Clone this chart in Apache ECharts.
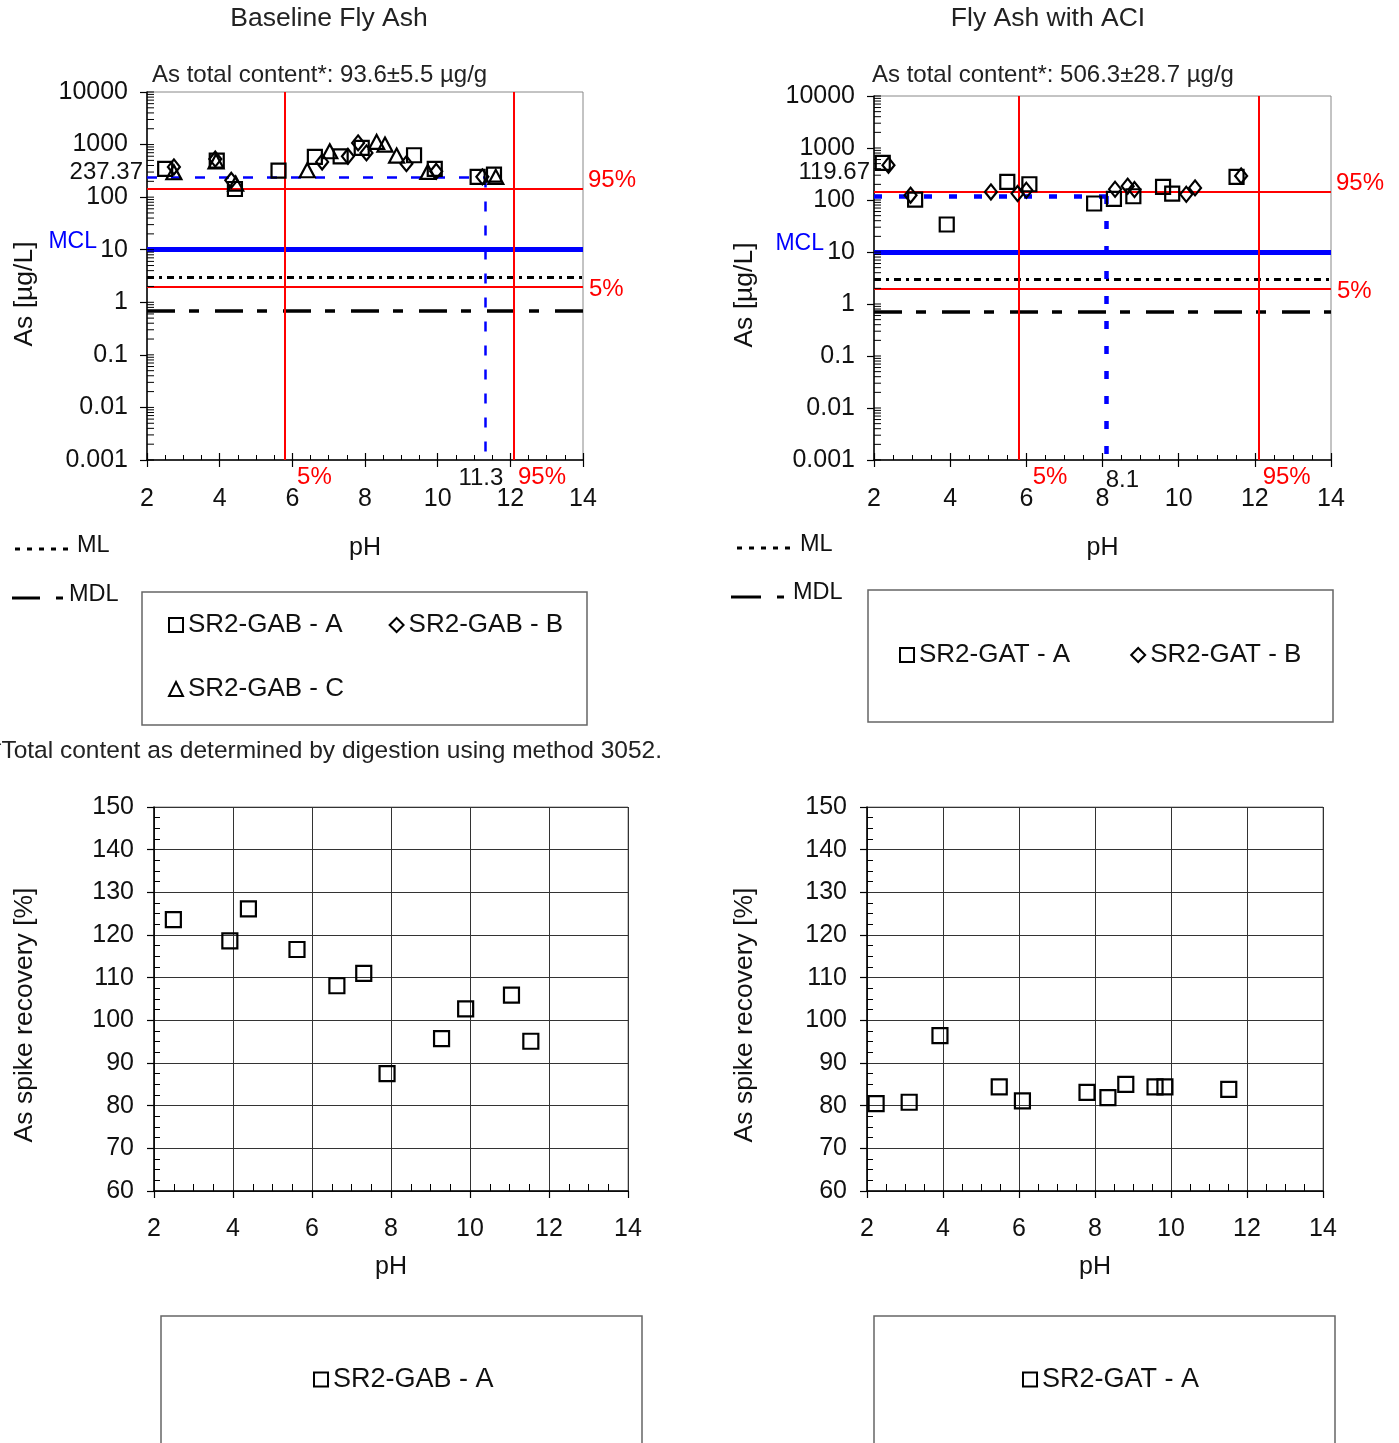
<!DOCTYPE html>
<html><head><meta charset="utf-8">
<script src="https://cdn.jsdelivr.net/npm/echarts@6/dist/echarts.min.js"></script>
<style>html,body{margin:0;padding:0;background:#fff}#c{width:1399px;height:1443px}</style>
</head><body><div id="c"></div>
<script>
// ---------- DATA ----------
// Baseline Fly Ash (SR2-GAB) leaching, As [ug/L] vs pH
const gabA_pH = [2.5, 3.92, 4.42, 5.62, 6.62, 7.33, 7.91, 9.35, 9.92, 11.1, 11.55];
const gabA_As = [344, 496, 143, 320, 583, 598, 865, 627, 344, 243, 268];
const gabB_pH = [2.74, 3.88, 4.32, 6.82, 7.53, 7.81, 8.04, 9.14, 9.96, 11.23];
const gabB_As = [376, 530, 209, 468, 598, 1077, 695, 434, 310, 243];
const gabC_pH = [2.74, 3.9, 4.44, 6.41, 7.03, 8.32, 8.55, 8.87, 9.73, 11.6];
const gabC_As = [297, 480, 181, 324, 746, 1125, 1000, 617, 302, 243];
// Fly Ash with ACI (SR2-GAT)
const gatA_pH = [2.23, 3.08, 3.91, 5.5, 6.08, 7.78, 8.3, 8.81, 9.59, 9.83, 11.52];
const gatA_As = [516, 102, 33.8, 223, 201, 85.7, 105, 118, 179, 133, 278];
const gatB_pH = [2.38, 2.96, 5.07, 5.77, 6.0, 8.33, 8.66, 8.84, 10.2, 10.43, 11.64];
const gatB_As = [467, 124, 143, 133, 154, 161, 184, 159, 129, 171, 291];
// Spike recovery [%]
const recGAB_pH = [2.49, 3.92, 4.39, 5.62, 6.63, 7.31, 7.9, 9.28, 9.89, 11.05, 11.54];
const recGAB_val = [123.6, 118.6, 126.1, 116.6, 108.1, 111.0, 87.5, 95.7, 102.7, 105.9, 95.1];
const recGAT_pH = [2.24, 3.11, 3.92, 5.48, 6.09, 7.79, 8.34, 8.81, 9.58, 9.84, 11.52];
const recGAT_val = [80.5, 80.8, 96.4, 84.4, 81.1, 83.1, 81.9, 85.0, 84.4, 84.4, 83.8];
// Reference lines
const refMCL = 10, refML = 3, refMDL = 0.7, ref95 = 145, ref5 = 2;
const pH5 = 5.8, pH95 = 12.1;
const gabTarget = [11.3, 237.37];
const gatTarget = [8.1, 119.67];
// Axis ticks
const logDecades = [0.001, 0.01, 0.1, 1, 10, 100, 1000];
const logMult = [1, 2, 3, 4, 5, 6, 7, 8, 9];
const logTop = 10000;

// ---------- CHART ----------
const FONT = '"Liberation Sans", Arial, Helvetica, sans-serif';
const TXT = '#111';
const chart = echarts.init(document.getElementById('c'), null, {renderer: 'canvas', width: 1399, height: 1443});

const grids = [
  {left: 147, top: 92, width: 436, height: 368},
  {left: 874, top: 96, width: 457, height: 364},
  {left: 154, top: 807, width: 474, height: 384},
  {left: 867, top: 807, width: 456, height: 384}
].map(g => Object.assign({show: true, borderColor: '#888', borderWidth: 1, backgroundColor: 'transparent', containLabel: false, outerBoundsMode: 'none'}, g));

function xPrimary(gi, top) {
  return {gridIndex: gi, type: 'value', min: 2, max: 14, interval: 2, position: 'bottom',
    axisLine: {show: true, onZero: false, lineStyle: {color: '#000', width: 1.5}},
    axisTick: {show: true, inside: false, length: 7, lineStyle: {color: '#000', width: 1.2}},
    axisLabel: {show: true, margin: top ? 27 : 26, color: TXT, fontSize: 25, fontFamily: FONT},
    splitLine: {show: !top, lineStyle: {color: '#333', width: 1}},
    minorTick: {show: false},
    name: 'pH', nameLocation: 'middle', nameGap: top ? 76 : 64,
    nameTextStyle: {color: TXT, fontSize: 25, fontFamily: FONT}};
}
function xSecondary(gi, top) {
  return {gridIndex: gi, type: 'value', min: 2, max: 14, interval: 2, position: 'bottom', offset: 0,
    axisLine: {show: false, onZero: false}, axisLabel: {show: false}, splitLine: {show: false},
    axisTick: {show: top, inside: true, length: 7, lineStyle: {color: '#000', width: 1.2}},
    minorTick: {show: true, splitNumber: 4, length: top ? 5 : 7, lineStyle: {color: '#000', width: 1}}};
}
const fmtLog = v => { const e = Math.round(Math.log10(v)); return e >= 0 ? String(Math.round(Math.pow(10, e))) : Math.pow(10, e).toFixed(-e); };
function yLog(gi) {
  return {gridIndex: gi, type: 'log', logBase: 10, min: 0.001, max: 10000, splitNumber: 7,
    axisLine: {show: true, onZero: false, lineStyle: {color: '#000', width: 1.5}},
    axisTick: {show: true, inside: false, length: 7, lineStyle: {color: '#000', width: 1.2}},
    axisLabel: {show: true, margin: 19, color: TXT, fontSize: 25, fontFamily: FONT, formatter: fmtLog},
    splitLine: {show: false}, minorTick: {show: false}};
}
function yRecPrimary(gi) {
  return {gridIndex: gi, type: 'value', min: 60, max: 150, interval: 10,
    axisLine: {show: true, onZero: false, lineStyle: {color: '#000', width: 1.5}},
    axisTick: {show: true, inside: false, length: 7, lineStyle: {color: '#000', width: 1.2}},
    axisLabel: {show: true, margin: 20, color: TXT, fontSize: 25, fontFamily: FONT},
    splitLine: {show: true, lineStyle: {color: '#333', width: 1}}, minorTick: {show: false}};
}
function yRecSecondary(gi) {
  return {gridIndex: gi, type: 'value', min: 60, max: 150, interval: 10, position: 'left', offset: 0,
    axisLine: {show: false, onZero: false}, axisLabel: {show: false}, splitLine: {show: false},
    axisTick: {show: false, inside: true},
    minorTick: {show: true, splitNumber: 4, length: 6, lineStyle: {color: '#000', width: 1}}};
}

const xAxes = [xPrimary(0, true), xSecondary(0, true), xPrimary(1, true), xSecondary(1, true),
  xPrimary(2, false), xSecondary(2, false), xPrimary(3, false), xSecondary(3, false)];
const yAxes = [yLog(0), yLog(1), yRecPrimary(2), yRecSecondary(2), yRecPrimary(3), yRecSecondary(3)];

const hollow = {color: 'rgba(255,255,255,0)', borderColor: '#000', borderWidth: 2.2, opacity: 1};
function sc(name, sym, size, xs, ys, xi, yi) {
  return {type: 'scatter', name: name, symbol: sym, symbolSize: size, xAxisIndex: xi, yAxisIndex: yi,
    data: xs.map((x, i) => [x, ys[i]]), itemStyle: hollow, z: 4, animation: false,
    emphasis: {disabled: true}, clip: false};
}
const red = {color: '#ff0000', width: 2, type: 'solid'};
function refSeries(xi, yi, tgt, blueStyle) {
  return {type: 'scatter', name: 'ref' + xi, xAxisIndex: xi, yAxisIndex: yi, data: [], z: 1, silent: true, animation: false,
    markLine: {silent: true, symbol: ['none', 'none'], label: {show: false}, animation: false, z: 1,
      emphasis: {disabled: true},
      data: [
        {yAxis: refMDL, lineStyle: {color: '#000', width: 3.5, type: [28, 14, 10, 16]}},
        {yAxis: refML, lineStyle: {color: '#000', width: 3, type: [7, 5, 3, 5]}},
        {yAxis: refMCL, lineStyle: {color: '#0000ff', width: 5, type: 'solid'}},
        [{coord: [2, tgt[1]], lineStyle: blueStyle}, {coord: [tgt[0], tgt[1]]}],
        [{coord: [tgt[0], tgt[1]], lineStyle: blueStyle}, {coord: [tgt[0], 0.001]}],
        {yAxis: ref95, lineStyle: red},
        {yAxis: ref5, lineStyle: red},
        {xAxis: pH5, lineStyle: red},
        {xAxis: pH95, lineStyle: red}
      ]}};
}
const logTickVals = [];
logDecades.forEach(d => logMult.forEach(m => logTickVals.push(m * d)));
logTickVals.push(logTop);
function logTickSeries(xi, yi) {
  return {type: 'custom', name: 'ticks' + xi, xAxisIndex: xi, yAxisIndex: yi, silent: true, clip: false, z: 5, animation: false,
    data: logTickVals.map(v => [2, v]), encode: {x: 0, y: 1},
    renderItem: (params, api) => {
      const p = api.coord([api.value(0), api.value(1)]);
      return {type: 'line', shape: {x1: p[0], y1: p[1], x2: p[0] + 7, y2: p[1]}, style: {stroke: '#000', lineWidth: 1}};
    }};
}

const series = [
  refSeries(0, 0, gabTarget, {color: '#0000ff', width: 2.5, type: [10, 14]}),
  refSeries(2, 1, gatTarget, {color: '#0000ff', width: 4.5, type: [8, 17]}),
  logTickSeries(0, 0), logTickSeries(2, 1),
  sc('SR2-GAB - A', 'rect', 14, gabA_pH, gabA_As, 0, 0),
  sc('SR2-GAB - B', 'diamond', [12, 15], gabB_pH, gabB_As, 0, 0),
  sc('SR2-GAB - C', 'triangle', [15, 14], gabC_pH, gabC_As, 0, 0),
  sc('SR2-GAT - A', 'rect', 14, gatA_pH, gatA_As, 2, 1),
  sc('SR2-GAT - B', 'diamond', [12, 15], gatB_pH, gatB_As, 2, 1),
  sc('SR2-GAB - A', 'rect', 15, recGAB_pH, recGAB_val, 4, 2),
  sc('SR2-GAT - A', 'rect', 15, recGAT_pH, recGAT_val, 6, 4)
];

function leg(names, left, top, gap, fs) {
  return {data: names, left: left, top: top, orient: 'horizontal', itemGap: gap, itemWidth: 14, itemHeight: 14,
    textStyle: {color: TXT, fontSize: fs, fontFamily: FONT}, selectedMode: false, padding: 0, inactiveColor: '#000'};
}

chart.setOption({
  backgroundColor: '#fff',
  animation: false,
  textStyle: {fontFamily: FONT},
  grid: grids,
  xAxis: xAxes,
  yAxis: yAxes,
  legend: [
    leg(['SR2-GAB - A', 'SR2-GAB - B'], 168, 612, 46, 26),
    leg(['SR2-GAB - C'], 168, 676, 40, 26),
    leg(['SR2-GAT - A', 'SR2-GAT - B'], 899, 642, 60, 26),
    leg(['SR2-GAB - A'], 313, 1366, 40, 27),
    leg(['SR2-GAT - A'], 1022, 1366, 40, 27)
  ],
  series: series
});

// ---------- ANNOTATIONS (positioned from the axes' scales) ----------
const px = (xi, yi, v) => chart.convertToPixel({xAxisIndex: xi, yAxisIndex: yi}, v);
function txt(x, y, s, opts) {
  return Object.assign({type: 'text', x: x, y: y, silent: true, z: 100,
    style: Object.assign({text: s, fill: TXT, fontSize: 24, fontFamily: FONT, textAlign: 'left', textVerticalAlign: 'middle'}, opts || {})});
}
function ln(x1, y1, x2, y2, w, dash) {
  return {type: 'line', silent: true, z: 100, shape: {x1, y1, x2, y2}, style: {stroke: '#000', lineWidth: w, lineDash: dash || null}};
}
const g = [];
function panelAnn(xi, yi, tgt, tgtLabelDx, tgtLabelDy, tgtValDy, o) {
  const ax = px(xi, yi, [2, 1])[0];
  const rx = px(xi, yi, [14, 1])[0];
  const by = px(xi, yi, [2, 0.001])[1];
  const y95 = px(xi, yi, [2, ref95])[1];
  const y5 = px(xi, yi, [2, ref5])[1];
  const y10 = px(xi, yi, [2, refMCL])[1];
  const yT = px(xi, yi, [2, tgt[1]])[1];
  const x5 = px(xi, yi, [pH5, 1])[0];
  const x95 = px(xi, yi, [pH95, 1])[0];
  const xT = px(xi, yi, [tgt[0], 1])[0];
  g.push(txt(rx + 5, y95 - 8, '95%', {fill: '#ff0000'}));
  g.push(txt(rx + 6, y5 + 3, '5%', {fill: '#ff0000'}));
  g.push(txt(x5 + o.d5, by + 17, '5%', {fill: '#ff0000'}));
  g.push(txt(x95 + 4, by + 17, '95%', {fill: '#ff0000'}));
  g.push(txt(xT + tgtLabelDx, by + tgtLabelDy, String(tgt[0]), {textAlign: 'center'}));
  g.push(txt(ax - 4, yT + tgtValDy, String(tgt[1]), {textAlign: 'right'}));
  g.push(txt(ax - 50, y10 - 8, 'MCL', {fill: '#0000ff', fontSize: 23, textAlign: 'right'}));
}
panelAnn(0, 0, gabTarget, -4, 18, -5, {d5: 12});
panelAnn(2, 1, gatTarget, 16, 20, -24, {d5: 14});

// titles and header texts
g.push(txt(329, 19, 'Baseline Fly Ash', {fontSize: 26.5, textAlign: 'center', fill: '#222'}));
g.push(txt(1048, 19, 'Fly Ash with ACI', {fontSize: 26.5, textAlign: 'center', fill: '#222'}));
g.push(txt(152, 75, 'As total content*: 93.6\u00b15.5 \u00b5g/g', {fontSize: 24, fill: '#222'}));
g.push(txt(872, 75, 'As total content*: 506.3\u00b128.7 \u00b5g/g', {fontSize: 24, fill: '#222'}));
// rotated y axis names
function yName(x, y, s) {
  return {type: 'text', x: x, y: y, rotation: Math.PI / 2, silent: true, z: 100,
    style: {text: s, fill: TXT, fontSize: 26.5, fontFamily: FONT, textAlign: 'center', textVerticalAlign: 'middle'}};
}
g.push(yName(25, 294, 'As [\u00b5g/L]'));
g.push(yName(745, 295, 'As [\u00b5g/L]'));
g.push(yName(25, 1015, 'As spike recovery [%]'));
g.push(yName(745, 1015, 'As spike recovery [%]'));
// ML / MDL keys
g.push(ln(15, 549, 72, 549, 3, [5, 7]));
g.push(txt(77, 546, 'ML', {fontSize: 23.5}));
g.push(ln(12, 598, 40, 598, 3));
g.push(ln(56, 598, 63, 598, 3));
g.push(txt(69, 595, 'MDL', {fontSize: 23.5}));
g.push(ln(737, 548, 797, 548, 3, [5, 7]));
g.push(txt(800, 545, 'ML', {fontSize: 23.5}));
g.push(ln(731, 597, 761, 597, 3));
g.push(ln(777, 597, 784, 597, 3));
g.push(txt(793, 593, 'MDL', {fontSize: 23.5}));
// legend frames
function frame(x, y, w, h) {
  return {type: 'rect', silent: true, z: 90, shape: {x, y, width: w, height: h}, style: {fill: 'none', stroke: '#666', lineWidth: 1.5}};
}
g.push(frame(142, 592, 445, 133));
g.push(frame(868, 590, 465, 132));
g.push(frame(161, 1316, 481, 140));
g.push(frame(874, 1316, 461, 140));
// footnote
g.push(txt(662, 751, '*Total content as determined by digestion using method 3052.', {fontSize: 24.5, textAlign: 'right', fill: '#222'}));

chart.setOption({graphic: {elements: g}});
</script>
</body></html>
